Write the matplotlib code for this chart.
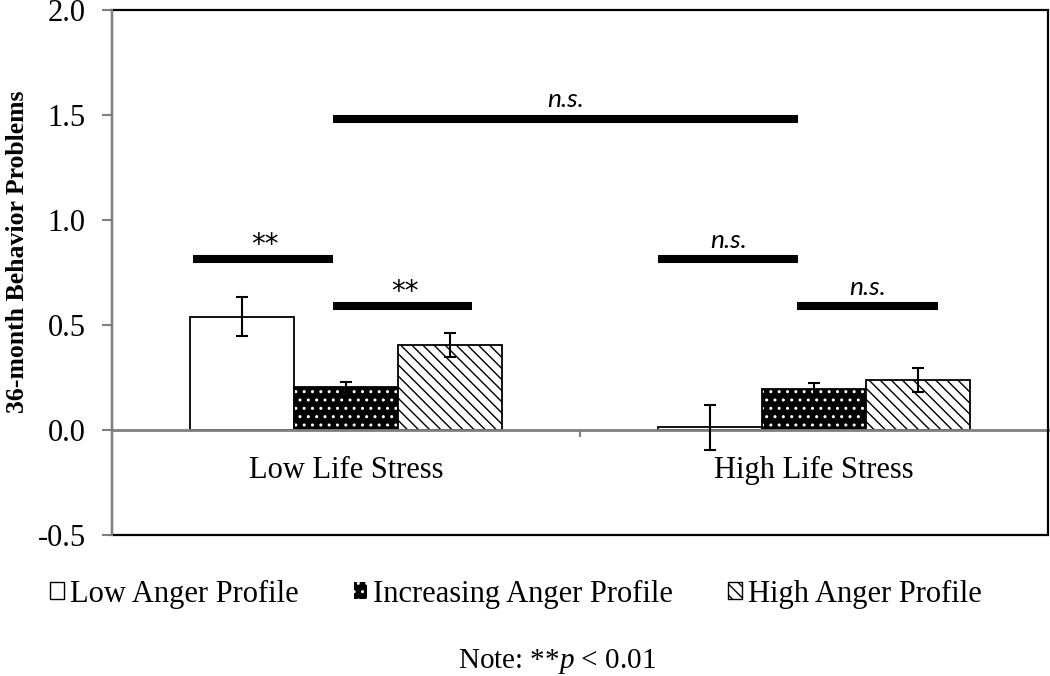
import numpy as np
import matplotlib
matplotlib.use("Agg")
import matplotlib.pyplot as plt
from matplotlib.patches import Patch, Rectangle

# --- data ---
stress_groups = ["Low Life Stress", "High Life Stress"]
profile_names = ["Low Anger Profile", "Increasing Anger Profile", "High Anger Profile"]

low_anger = [0.54, 0.012]
increasing_anger = [0.205, 0.195]
high_anger = [0.405, 0.238]

low_anger_err = [0.093, 0.105]
increasing_anger_err = [0.024, 0.029]
high_anger_err = [0.057, 0.057]

# significance bars: start, end (category units), height, label
sig_x0 = [-0.327, -0.028, -0.028, 0.667, 0.964]
sig_x1 = [-0.028, 0.269, 0.966, 0.966, 1.265]
sig_y = [0.814, 0.59, 1.481, 0.814, 0.59]
sig_labels = ["**", "**", "n.s.", "n.s.", "n.s."]

yticks = [-0.5, 0.0, 0.5, 1.0, 1.5, 2.0]

plt.rcParams['font.family'] = ['Liberation Serif', 'DejaVu Serif']
plt.rcParams['mathtext.fontset'] = 'custom'
plt.rcParams['mathtext.rm'] = 'Liberation Serif'
plt.rcParams['mathtext.it'] = 'Liberation Serif:italic'
plt.rcParams['hatch.linewidth'] = 1.0

fig = plt.figure(figsize=(10.5, 6.76), dpi=100)
ax = fig.add_axes([112 / 1050, 141 / 676, 936 / 1050, 525 / 676])

x = np.arange(len(stress_groups))
w = 0.222
gray = '#7f7f7f'

# low anger: plain white
ax.bar(x - w, low_anger, w, facecolor='white', edgecolor='black', linewidth=1.3, zorder=2)
# increasing anger: black with white dots (two layers so dots can be white)
ax.bar(x, increasing_anger, w, facecolor='black', edgecolor='white', hatch='..', linewidth=0, zorder=2)
ax.bar(x, increasing_anger, w, fill=False, edgecolor='black', linewidth=1.3, zorder=2)
# high anger: diagonal hatch
ax.bar(x + w, high_anger, w, facecolor='white', edgecolor='black', hatch='\\\\\\', linewidth=1.3, zorder=2)

ax.errorbar(x - w, low_anger, yerr=low_anger_err, fmt='none', ecolor='black',
            elinewidth=1.5, capsize=4, capthick=1.5, zorder=4)
ax.errorbar(x, increasing_anger, yerr=increasing_anger_err, fmt='none', ecolor='black',
            elinewidth=1.5, capsize=4, capthick=1.5, zorder=4)
ax.errorbar(x + w, high_anger, yerr=high_anger_err, fmt='none', ecolor='black',
            elinewidth=1.5, capsize=4, capthick=1.5, zorder=4)

# significance lines and labels
ax.hlines(sig_y, sig_x0, sig_x1, colors='black', linewidth=5.8, zorder=4)
for x0, x1, y, lab in zip(sig_x0, sig_x1, sig_y, sig_labels):
    if lab == 'n.s.':
        ax.text((x0 + x1) / 2, y + 0.055, lab, ha='center', va='baseline',
                family=['Lato', 'DejaVu Sans'], style='italic', fontsize=19, zorder=5)
    else:
        ax.text((x0 + x1) / 2 + 0.005, y + 0.03, lab, ha='center', va='baseline',
                family=['DejaVu Sans'], fontsize=20, zorder=5)

ax.set_xlim(-0.5, 1.5)
ax.set_ylim(-0.5, 2.0)

# axes styling
ax.spines['top'].set_visible(False)
ax.spines['right'].set_visible(False)
ax.spines['bottom'].set_position(('data', 0))
ax.spines['bottom'].set_color(gray)
ax.spines['bottom'].set_linewidth(2.0)
ax.spines['left'].set_color(gray)
ax.spines['left'].set_linewidth(1.5)
ax.spines['left'].set_zorder(3)
ax.add_patch(Rectangle((0, 0), 1, 1, transform=ax.transAxes, fill=False,
                       edgecolor='black', linewidth=1.6, clip_on=False, zorder=2.6))

ax.set_yticks(yticks)
ax.set_yticklabels([f"{v:.1f}" for v in yticks])
ax.tick_params(axis='y', direction='out', length=7, width=1.5, color=gray,
               pad=12, labelsize=22)

ax.set_xticks(x)
ax.set_xticklabels(stress_groups)
ax.set_xticks([0.5], minor=True)
ax.tick_params(axis='x', which='major', length=0, pad=19, labelsize=22)
ax.tick_params(axis='x', which='minor', direction='out', length=5, width=1.5, color=gray)

fig.text(18 / 1050, 1 - 252 / 676, "36-month Behavior Problems", rotation=90,
         ha='center', va='center', fontsize=18.5, fontweight='bold')

handles = [
    Patch(facecolor='white', edgecolor='black', linewidth=1.0),
    Patch(facecolor='black', edgecolor='white', hatch='..', linewidth=0),
    Patch(facecolor='white', edgecolor='black', hatch='\\\\\\', linewidth=1.0),
]
fig.legend(handles, profile_names, loc='center', bbox_to_anchor=(516 / 1050, 1 - 594 / 676),
           ncol=3, frameon=False, fontsize=22, handlelength=0.45, handleheight=0.45,
           handletextpad=0.2, columnspacing=1.8, borderaxespad=0)

fig.text(557 / 1050, 1 - 662 / 676, "Note: **$p$ < 0.01", ha='center', va='center', fontsize=21)

fig.savefig("out.png", dpi=100)
